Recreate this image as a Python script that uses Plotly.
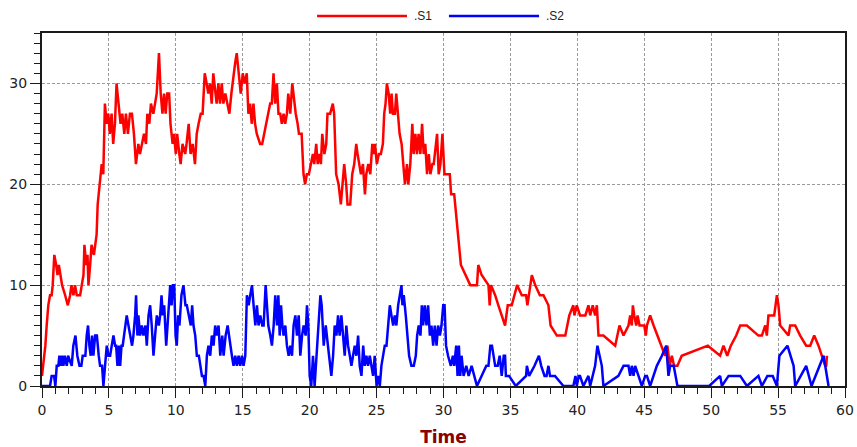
import plotly.graph_objects as go

# Species S1 trajectory (time, count)
s1_time = [0, 0.1, 0.25, 0.35, 0.47, 0.6, 0.72, 0.8, 0.92, 1.06, 1.16, 1.26, 1.36, 1.5, 1.73, 1.93,
           2.1, 2.2, 2.35, 2.47, 2.6, 2.85, 2.97, 3.1, 3.17, 3.3, 3.4, 3.47, 3.6, 3.7, 3.88, 3.98,
           4.08, 4.16, 4.23, 4.33, 4.46, 4.58, 4.7, 4.83, 4.95, 5.07, 5.2, 5.32, 5.45,
           5.57, 5.72, 5.87, 6.0, 6.15, 6.27, 6.42, 6.57, 6.72, 6.87, 7.02, 7.2, 7.32, 7.47, 7.62,
           7.77, 7.87, 8.02, 8.14, 8.32, 8.47, 8.57, 8.74, 8.87, 9.0, 9.12, 9.24, 9.36, 9.5, 9.6,
           9.76, 9.86, 10.0, 10.1, 10.26, 10.36, 10.5, 10.7, 10.8, 10.96, 11.1, 11.26, 11.43, 11.56,
           11.7, 11.86, 12.0, 12.16, 12.3, 12.43, 12.55, 12.68, 12.8, 12.95, 13.05, 13.18, 13.3,
           13.43, 13.55, 13.7, 13.85, 14.0, 14.15, 14.3, 14.43, 14.55, 14.7, 14.85, 15.0, 15.15,
           15.3, 15.42, 15.55, 15.67, 15.8, 15.92, 16.05, 16.3, 16.45, 16.6, 16.75, 16.9, 17.05,
           17.17, 17.3, 17.42, 17.55, 17.67, 17.8, 17.92, 18.05, 18.17, 18.3, 18.4, 18.55, 18.7,
           18.84, 18.96, 19.1, 19.2, 19.4, 19.54, 19.66, 19.79, 19.94, 20.09, 20.24, 20.34, 20.49,
           20.6, 20.74, 20.84, 20.94, 21.1, 21.24, 21.33, 21.53, 21.73, 21.83, 21.98, 22.16, 22.33,
           22.48, 22.58, 22.73, 22.83, 23.03, 23.18, 23.33, 23.48, 23.58, 23.73, 23.83, 23.98,
           24.13, 24.23, 24.38, 24.53, 24.68, 24.78, 24.88, 25.02, 25.17, 25.32, 25.47, 25.57,
           25.67, 25.77, 25.9, 26.02, 26.12, 26.22, 26.37, 26.47, 26.57, 26.72, 26.87, 27.02,
           27.12, 27.27, 27.37, 27.52, 27.67, 27.77, 27.9, 28.02, 28.14, 28.27, 28.4, 28.52,
           28.64, 28.77, 28.9, 29.02, 29.17, 29.27, 29.4, 29.52, 29.64, 29.77, 29.92, 30.07,
           30.47, 30.57, 30.8, 30.95, 31.05, 31.15, 31.3, 32.0, 32.5, 32.6, 32.85, 33.36, 33.45,
           33.55, 33.86, 34.1, 34.36, 34.6, 34.8, 35.1, 35.5, 35.85, 36.17, 36.27, 36.6, 36.85,
           37.2, 37.47, 37.84, 38.0, 38.47, 39.1, 39.4, 39.7, 39.78, 39.96, 40.2, 40.6, 40.83,
           40.96, 41.15, 41.33, 41.46, 41.58, 41.95, 42.83, 43.15, 43.45, 43.82, 43.95, 44.07,
           44.15, 44.25, 44.4, 44.5, 44.65, 45.0, 45.12, 45.2, 45.44, 45.7, 45.99, 46.32, 46.56,
           46.73, 46.9, 47.06, 47.23, 47.48, 47.8, 49.75, 50.67, 50.92, 51.2, 51.47, 51.87, 52.17,
           52.67, 53.53, 53.79, 54.04, 54.16, 54.28, 54.71, 54.91, 55.03, 55.16, 55.78, 55.9,
           56.28, 56.65, 57.1, 57.4, 57.7, 58.02, 58.27, 58.52, 58.6, 58.65]
s1_count = [1, 2, 4, 6, 8, 9, 9, 10, 13, 12, 11, 12, 11, 10, 9, 8,
            9, 10, 9, 10, 9, 9, 10, 11, 14, 12, 13, 10, 12, 14, 13, 14,
            15, 18, 19, 20, 22, 21, 28, 26, 27, 25, 27, 24, 26,
            30, 28, 26, 27, 25, 27, 25, 27, 27, 25, 22, 24, 23, 24, 25,
            24, 27, 26, 28, 27, 28, 29, 33, 29, 27, 29, 27, 29, 29, 26,
            24, 25, 23, 25, 23, 22, 24, 23, 24, 26, 23, 24, 22, 25,
            26, 27, 27, 31, 30, 29, 30, 28, 31, 29, 28, 30, 28,
            30, 28, 29, 28, 27, 29, 31, 32, 33, 31, 29, 31, 30,
            31, 27, 28, 26, 28, 26, 25, 24, 24, 25, 26, 27, 28,
            28, 31, 28, 30, 27, 27, 26, 27, 26, 27, 29, 27, 30,
            28, 27, 26, 25, 25, 21, 20, 21, 21, 22, 23, 22, 24,
            22, 23, 22, 25, 23, 24, 27, 27, 28, 27, 21, 20, 18,
            21, 22, 20, 18, 18, 21, 22, 24, 23, 22, 21, 22,
            19, 21, 22, 21, 24, 23, 24, 22, 23, 23, 24, 27,
            28, 30, 29, 27, 29, 27, 27, 29, 27, 25, 24, 21,
            20, 22, 20, 22, 26, 23, 25, 23, 25, 23, 26, 23,
            24, 21, 23, 21, 22, 22, 24, 25, 21, 22, 25, 21,
            21, 19, 19, 17, 16, 14, 12, 10, 10, 12, 11, 10, 8,
            10, 9, 8, 7, 6, 8, 8, 10, 9, 9, 8, 11, 10,
            9, 9, 8, 6, 5, 5, 7, 8, 7, 8, 7, 7, 8,
            7, 8, 7, 8, 5, 5, 4, 6, 5, 6, 7, 6,
            8, 7, 6, 7, 6, 6, 5, 6, 7, 6, 5, 4, 3,
            4, 2, 3, 2, 2, 3, 4, 3, 4, 3, 4, 5, 6,
            6, 5, 5, 6, 5, 7, 7, 9, 8, 6, 5, 6,
            6, 5, 4, 4, 5, 4, 3, 2, 2, 3]

# Species S2 trajectory (time, count)
s2_time = [0, 0.6, 0.72, 0.9, 1.0, 1.1, 1.22, 1.3, 1.4, 1.5, 1.6, 1.7, 1.85, 1.95, 2.22, 2.34,
           2.5, 2.64, 2.8, 2.94, 3.04, 3.24, 3.34, 3.44, 3.54, 3.64, 3.74, 3.84, 3.97, 4.1,
           4.24, 4.34, 4.49, 4.59, 4.71, 4.84, 4.96, 5.09, 5.21, 5.34, 5.46, 5.54, 5.64, 5.74,
           5.84, 5.94, 6.03, 6.13, 6.23, 6.33, 6.46, 6.58, 6.73, 6.83, 6.96, 7.03, 7.13, 7.2,
           7.33, 7.46, 7.58, 7.73, 7.83, 7.96, 8.08, 8.2, 8.33, 8.45, 8.58, 8.73, 8.83, 8.93,
           9.03, 9.13, 9.28, 9.38, 9.48, 9.58, 9.68, 9.78, 9.88, 9.98, 10.07, 10.17, 10.27,
           10.42, 10.57, 10.72, 10.82, 10.97, 11.12, 11.22, 11.32, 11.45, 11.57, 11.72, 11.82,
           11.95, 12.07, 12.2, 12.32, 12.44, 12.57, 12.69, 12.82, 12.94, 13.07, 13.19, 13.32,
           13.47, 13.57, 13.72, 13.87, 13.96, 14.07, 14.19, 14.31, 14.44, 14.56, 14.69, 14.81,
           14.94, 15.06, 15.19, 15.31, 15.44, 15.56, 15.69, 15.81, 15.94, 16.06, 16.18, 16.31,
           16.46, 16.56, 16.71, 16.81, 16.91, 17.06, 17.18, 17.31, 17.43, 17.56, 17.66, 17.76,
           17.86, 17.96, 18.05, 18.18, 18.3, 18.43, 18.55, 18.68, 18.8, 18.93, 19.05, 19.18,
           19.3, 19.43, 19.55, 19.7, 19.8, 19.9, 20.0, 20.12, 20.25, 20.37, 20.8, 20.9, 21.05,
           21.2, 21.3, 21.45, 21.62, 21.75, 21.87, 22.0, 22.12, 22.24, 22.37, 22.5, 22.62,
           22.74, 22.87, 23.0, 23.12, 23.24, 23.37, 23.49, 23.62, 23.74, 23.87, 24.0, 24.11,
           24.24, 24.36, 24.49, 24.61, 24.74, 24.86, 25.0, 25.11, 25.24, 25.36, 25.61, 25.74,
           25.86, 25.99, 26.11, 26.24, 26.36, 26.48, 26.61, 26.73, 26.86, 26.93, 27.03, 27.18,
           27.28, 27.43, 27.6, 27.78, 27.93, 28.03, 28.15, 28.28, 28.38, 28.48, 28.6, 28.73,
           28.85, 28.98, 29.1, 29.23, 29.35, 29.48, 29.6, 29.73, 29.85, 29.98, 30.08, 30.19,
           30.34, 30.55, 30.7, 30.8, 30.95, 31.05, 31.15, 31.25, 31.35, 31.5, 31.7, 31.88,
           32.1, 32.5, 33.2, 33.36, 33.5, 33.62, 33.86, 34.05, 34.2, 34.35, 34.5, 34.6, 34.66,
           34.9, 35.4, 36.17, 36.23, 36.4, 36.8, 37.13, 37.3, 37.55, 37.7, 37.84, 37.96, 38.33,
           38.96, 39.7, 39.86, 39.96, 40.1, 40.2, 40.45, 40.83, 40.96, 41.33, 41.5, 41.65,
           41.83, 41.95, 43.07, 43.45, 43.82, 43.95, 44.07, 44.2, 44.32, 44.57, 44.82, 45.07,
           45.2, 45.44, 45.94, 46.32, 46.64, 46.81, 46.94, 47.2, 47.35, 47.48, 49.85, 50.67,
           50.8, 51.3, 52.17, 52.67, 53.53, 53.79, 54.2, 54.6, 54.91, 55.1, 55.7, 56.16, 56.28,
           57.1, 57.5, 58.4, 58.77]
s2_count = [0, 0, 1, 1, 0, 2, 2, 3, 2, 3, 2, 3, 2, 3, 2, 4,
            5, 3, 2, 2, 3, 3, 5, 6, 4, 3, 5, 3, 5, 5,
            3, 2, 2, 0, 2, 4, 3, 3, 4, 5, 4, 4, 2, 4,
            2, 4, 4, 5, 6, 7, 6, 5, 4, 5, 7, 9, 5, 7,
            5, 6, 5, 6, 4, 7, 8, 6, 3, 5, 7, 6, 7, 9,
            7, 8, 4, 6, 8, 10, 8, 10, 10, 5, 4, 7, 6,
            9, 10, 8, 8, 7, 6, 8, 6, 5, 3, 3, 2,
            1, 1, 0, 3, 4, 3, 5, 4, 6, 5, 6, 3,
            5, 3, 5, 6, 5, 4, 3, 2, 3, 2, 3, 2,
            3, 2, 3, 9, 8, 9, 10, 8, 6, 8, 6, 7,
            6, 6, 10, 8, 6, 5, 4, 6, 9, 6, 9, 5,
            8, 6, 5, 6, 4, 3, 4, 3, 6, 7, 5, 7,
            3, 5, 6, 5, 8, 6, 1, 0, 3, 0, 9, 8, 4,
            6, 5, 3, 1, 3, 6, 5, 7, 5, 7, 5, 3,
            6, 4, 3, 2, 3, 4, 3, 5, 2, 1, 4, 2,
            3, 2, 3, 2, 1, 3, 0, 1, 0, 2, 4, 4,
            6, 8, 7, 6, 7, 6, 8, 9, 10, 8, 9, 7,
            5, 3, 2, 2, 3, 5, 6, 5, 8, 6, 8, 6,
            8, 5, 6, 4, 6, 4, 6, 5, 6, 8, 8, 4,
            3, 2, 3, 2, 4, 1, 4, 1, 3, 1, 2, 1,
            2, 0, 2, 2, 4, 4, 2, 2, 3, 1, 3, 3, 1,
            1, 0, 1, 2, 1, 2, 3, 2, 1, 1, 2, 1, 1,
            0, 0, 1, 0, 1, 1, 0, 1, 0, 2, 4, 3,
            2, 0, 1, 2, 2, 1, 2, 1, 2, 1, 0, 1,
            1, 0, 2, 3, 4, 1, 2, 2, 1, 0, 0, 1,
            0, 1, 1, 0, 1, 0, 1, 1, 0, 3, 4, 2, 0,
            2, 0, 3, 0]

series_names = [".S1", ".S2"]
series_colors = ["#FF0000", "#0000FF"]

x_ticks = list(range(0, 61, 5))
y_ticks = [0, 10, 20, 30]

fig = go.Figure()
for name, tt, vv, col in zip(series_names, [s1_time, s2_time], [s1_count, s2_count], series_colors):
    fig.add_trace(go.Scatter(x=tt, y=vv, mode="lines", name=name,
                             line=dict(color=col, width=2.5), showlegend=False))

axis_font = dict(family="DejaVu Sans, Verdana, sans-serif", size=14, color="#222222")
common = dict(showline=True, linecolor="#1a1a1a", linewidth=2, mirror=True,
              ticks="outside", ticklen=10, tickwidth=1, tickcolor="#1a1a1a",
              showgrid=True, gridcolor="#9a9a9a", gridwidth=1, griddash="3px,2px",
              zeroline=False, tickfont=axis_font, automargin=False)

fig.update_xaxes(range=[0, 60], tickvals=x_ticks,
                 minor=dict(dtick=1, ticks="outside", ticklen=6, tickcolor="#1a1a1a", showgrid=False),
                 title=dict(text="<b>Time</b>", standoff=18,
                            font=dict(family="DejaVu Sans, Verdana, sans-serif", size=17, color="#8B0000")),
                 **common)
fig.update_yaxes(range=[0, 35], tickvals=y_ticks,
                 minor=dict(dtick=1, ticks="outside", ticklen=6, tickcolor="#1a1a1a", showgrid=False),
                 **common)

# Legend drawn across the top: line swatch followed by the series label
legend_y = 1.048
swatch = [(0.3425, 0.4545), (0.5068, 0.6190)]
for (x0, x1), name, col in zip(swatch, series_names, series_colors):
    fig.add_shape(type="line", xref="paper", yref="paper", x0=x0, x1=x1, y0=legend_y, y1=legend_y,
                  line=dict(color=col, width=2.5))
    fig.add_annotation(xref="paper", yref="paper", x=x1 + 0.006, y=legend_y, text=name,
                       showarrow=False, xanchor="left", yanchor="middle",
                       font=dict(family="Liberation Sans, Arial, sans-serif", size=12, color="#222222"))

fig.update_layout(width=857, height=447, margin=dict(l=42, r=12, t=33, b=61),
                  plot_bgcolor="white", paper_bgcolor="white", showlegend=False)

fig.write_html("out.html")
